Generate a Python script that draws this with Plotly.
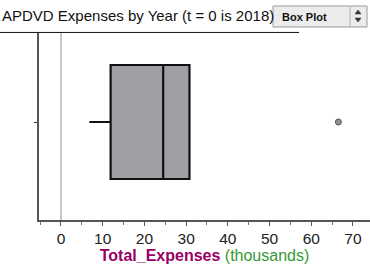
import plotly.graph_objects as go

title_text = "APDVD Expenses by Year (t = 0 is 2018)"
q1 = [11.9]
median = [24.5]
q3 = [30.8]
lowerfence = [6.8]
upperfence = [30.8]
outliers = [66.5]
tick_vals = [0, 10, 20, 30, 40, 50, 60, 70]
tick_text = ["0", "10", "20", "30", "40", "50", "60", "70"]

fig = go.Figure()
fig.add_trace(go.Box(
    y=[0], q1=q1, median=median, q3=q3,
    lowerfence=lowerfence, upperfence=upperfence,
    orientation="h", width=1, whiskerwidth=0,
    fillcolor="#a09fa4", line=dict(color="#111111", width=2.2),
    boxpoints=False, hoverinfo="skip", showlegend=False,
))
fig.add_trace(go.Scatter(
    x=outliers, y=[0] * len(outliers), mode="markers",
    marker=dict(size=6, color="#8f8f8f", line=dict(color="#555555", width=1)),
    showlegend=False, hoverinfo="skip",
))

fig.update_layout(
    width=370, height=268,
    margin=dict(l=39, r=0, t=33, b=48, autoexpand=False),
    paper_bgcolor="white", plot_bgcolor="white",
    font=dict(family="Liberation Sans, Arial, sans-serif", size=15, color="#222"),
    title=dict(text=title_text, xref="container", x=2/370, xanchor="left",
               y=1 - 16/268, yanchor="middle",
               font=dict(family="Liberation Sans, Arial, sans-serif", size=15, color="#111")),
    xaxis=dict(
        range=[-5.27, 74.08], tickvals=tick_vals, ticktext=tick_text,
        ticks="outside", ticklen=4, tickcolor="#555", tickwidth=1,
        minor=dict(dtick=5, ticks="outside", ticklen=3, tickcolor="#777"),
        showline=True, linecolor="#555", linewidth=1.5,
        showgrid=False, zeroline=True, zerolinecolor="#c8c8c8", zerolinewidth=1.5,
        tickfont=dict(size=15.5, color="#222"), automargin=False,
        title=dict(
            text="<b><span style='color:#990066'>Total_Expenses</span></b> "
                 "<span style='color:#339933'>(thousands)</span>",
            font=dict(size=16), standoff=1),
    ),
    yaxis=dict(
        range=[-0.860, 0.781], tickvals=[0], ticktext=[""],
        ticks="outside", ticklen=3, tickcolor="#333", automargin=False,
        showline=True, linecolor="#555", linewidth=1.5,
        showgrid=False, zeroline=False,
    ),
)

# title underline
fig.add_shape(type="line", xref="paper", yref="paper",
              x0=-39/331, x1=260/331, y0=1.003, y1=1.003,
              line=dict(color="#111", width=1))

# dropdown look-alike
px = lambda v: (v - 39) / 331
py = lambda v: 1 + (33 - v) / 187
fig.add_shape(type="rect", xref="paper", yref="paper",
              x0=px(273), x1=px(367), y0=py(27), y1=py(6),
              line=dict(color="#9a9a9a", width=1), fillcolor="#ececec")
fig.add_shape(type="line", xref="paper", yref="paper",
              x0=px(350), x1=px(350), y0=py(26), y1=py(7),
              line=dict(color="#b0b0b0", width=1))
fig.add_shape(type="path", xref="paper", yref="paper",
              path=f"M {px(355)} {py(14)} L {px(361)} {py(14)} L {px(358)} {py(10)} Z",
              line=dict(color="#333", width=0.5), fillcolor="#333")
fig.add_shape(type="path", xref="paper", yref="paper",
              path=f"M {px(355)} {py(18)} L {px(361)} {py(18)} L {px(358)} {py(22)} Z",
              line=dict(color="#333", width=0.5), fillcolor="#333")
fig.add_annotation(xref="paper", yref="paper", x=px(280), y=py(16.5),
                   text="<b>Box Plot</b>", showarrow=False, xanchor="left", yanchor="middle",
                   font=dict(family="Liberation Sans, Arial, sans-serif", size=11, color="#111"))

fig.write_html("out.html", config={"displayModeBar": False},
               post_script="document.body.style.margin='0';")
